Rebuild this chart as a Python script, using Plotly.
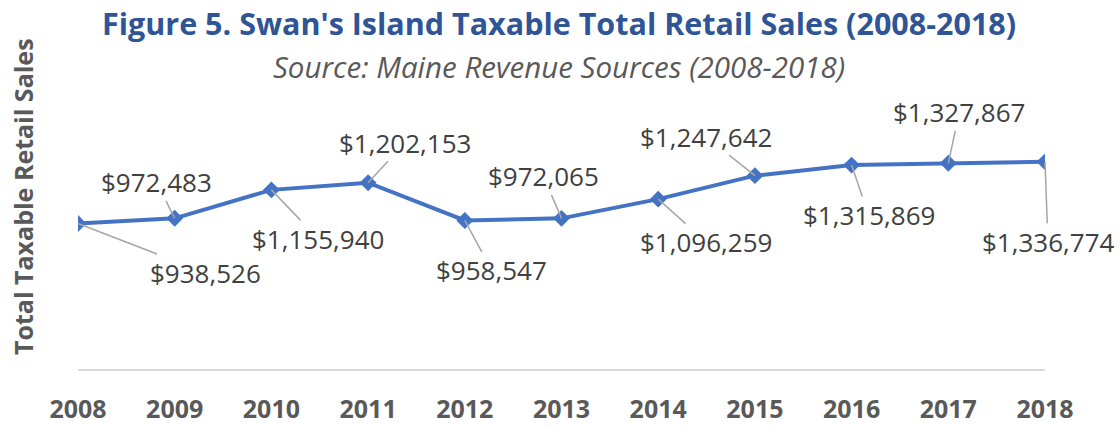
import plotly.graph_objects as go

years = [2008, 2009, 2010, 2011, 2012, 2013, 2014, 2015, 2016, 2017, 2018]
sales = [938526, 972483, 1155940, 1202153, 958547, 972065, 1096259, 1247642, 1315869, 1327867, 1336774]
labels = ["$938,526", "$972,483", "$1,155,940", "$1,202,153", "$958,547", "$972,065",
          "$1,096,259", "$1,247,642", "$1,315,869", "$1,327,867", "$1,336,774"]
# label offsets (pixels) relative to each point
label_dx = [127, -18, 47, 37, 27, -18, 48, -49, 17, 11, 3]
label_dy = [49, -36, 49, -40, 50, -42, 43, -39, 50, -51, 80]

W, H = 1120, 427
ML, MR, MT, MB = 78, 75, 100, 58
FONT = "Open Sans"

fig = go.Figure()
fig.add_trace(go.Scatter(
    x=years, y=sales, mode="lines+markers",
    line=dict(color="#4472C4", width=4),
    marker=dict(symbol="diamond", size=13, color="#4472C4"),
    hoverinfo="skip", showlegend=False,
))

for x, y, t, dx, dy in zip(years, sales, labels, label_dx, label_dy):
    fig.add_annotation(
        x=x, y=y, xref="x", yref="y", text=t,
        showarrow=True, arrowhead=0, arrowwidth=1.5, arrowcolor="#A6A6A6",
        ax=dx, ay=dy, standoff=0, startstandoff=0,
        font=dict(family=FONT, size=26, color="#404040"),
        borderpad=0,
    )

def px_x(X):
    return (X - ML) / (W - ML - MR)

def px_y(Y):
    return (H - MB - Y) / (H - MT - MB)

fig.add_annotation(
    x=px_x(559), y=px_y(23), xref="paper", yref="paper", showarrow=False,
    text="<b>Figure 5. Swan's Island Taxable Total Retail Sales (2008-2018)</b>",
    font=dict(family=FONT, size=30.5, color="#2F5597"), xanchor="center", yanchor="middle",
)
fig.add_annotation(
    x=px_x(559), y=px_y(66), xref="paper", yref="paper", showarrow=False,
    text="<i>Source: Maine Revenue Sources (2008-2018)</i>",
    font=dict(family=FONT, size=29.5, color="#595959"), xanchor="center", yanchor="middle",
)
fig.add_annotation(
    x=px_x(23), y=px_y(197), xref="paper", yref="paper", showarrow=False,
    text="<b>Total Taxable Retail Sales</b>", textangle=-90,
    font=dict(family=FONT, size=25, color="#595959"), xanchor="center", yanchor="middle",
)

fig.update_layout(
    width=W, height=H,
    margin=dict(l=ML, r=MR, t=MT, b=MB, autoexpand=False),
    paper_bgcolor="white", plot_bgcolor="white",
    font=dict(family=FONT),
    xaxis=dict(
        range=[2008, 2018], tickmode="array", tickvals=years,
        ticktext=[str(y) for y in years], automargin=False,
        showgrid=False, zeroline=False, showline=True, linecolor="#D9D9D9", linewidth=1.5,
        ticks="", ticklabelstandoff=17,
        tickfont=dict(family=FONT, size=25, color="#595959", weight="bold"),
    ),
    yaxis=dict(
        range=[0, 1736000], showgrid=False, zeroline=False, showline=False,
        showticklabels=False, ticks="", automargin=False,
    ),
)

fig.write_html("out.html", config={"displayModeBar": False},
               post_script="document.body.style.margin='0';")
